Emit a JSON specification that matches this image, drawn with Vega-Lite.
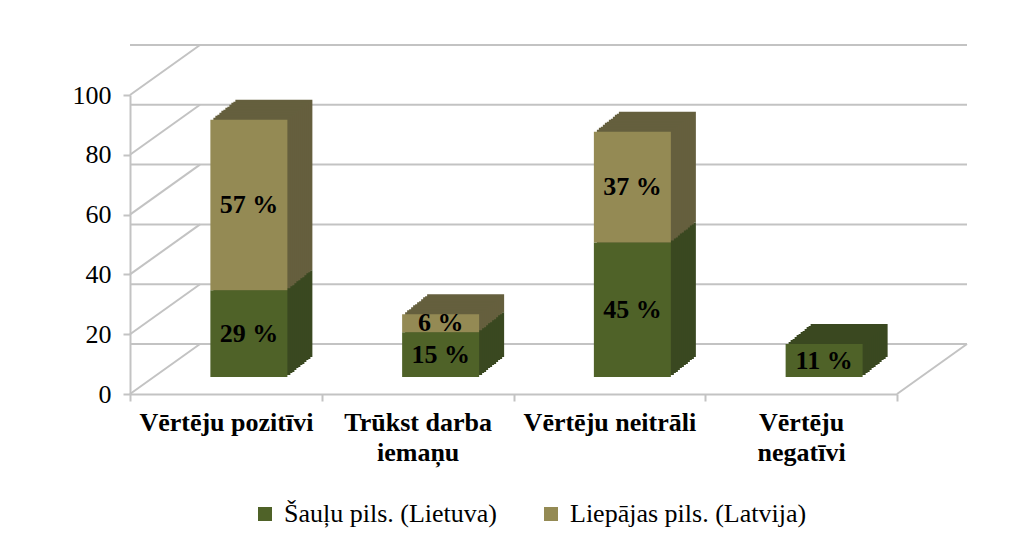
{
  "$schema": "https://vega.github.io/schema/vega-lite/v6.json",
  "width": 767,
  "height": 299,
  "autosize": {"type": "none"},
  "padding": {"left": 130, "top": 95, "right": 130, "bottom": 153},
  "background": "white",
  "config": {"font": "Liberation Serif", "view": {"stroke": null}},
  "datasets": {
    "bars": [
      {"cat": "Vērtēju pozitīvi", "series": "Šauļu pils. (Lietuva)", "value": 29, "ord": 1},
      {"cat": "Vērtēju pozitīvi", "series": "Liepājas pils. (Latvija)", "value": 57, "ord": 2},
      {"cat": "Trūkst darba iemaņu", "series": "Šauļu pils. (Lietuva)", "value": 15, "ord": 1},
      {"cat": "Trūkst darba iemaņu", "series": "Liepājas pils. (Latvija)", "value": 6, "ord": 2},
      {"cat": "Vērtēju neitrāli", "series": "Šauļu pils. (Lietuva)", "value": 45, "ord": 1},
      {"cat": "Vērtēju neitrāli", "series": "Liepājas pils. (Latvija)", "value": 37, "ord": 2},
      {"cat": "Vērtēju negatīvi", "series": "Šauļu pils. (Lietuva)", "value": 11, "ord": 1}
    ],
    "ticks": [{"t": 0}, {"t": 20}, {"t": 40}, {"t": 60}, {"t": 80}, {"t": 100}]
  },
  "layer": [
    {
      "data": {"name": "ticks"},
      "mark": {"type": "rule", "color": "#c3c3c3", "strokeWidth": 2, "xOffset": 70, "x2Offset": 70, "yOffset": -50},
      "encoding": {
        "y": {"field": "t", "type": "quantitative", "scale": {"domain": [0, 100], "nice": false},
          "axis": {"values": [0, 20, 40, 60, 80, 100], "title": null, "grid": false, "labelFontSize": 26, "labelColor": "#000000", "labelFont": "Liberation Serif", "tickSize": 7, "tickWidth": 2, "tickColor": "#c3c3c3", "domainColor": "#c3c3c3", "domainWidth": 2, "labelPadding": 12}}
      }
    },
    {
      "data": {"name": "ticks"},
      "mark": {"type": "rule", "color": "#c3c3c3", "strokeWidth": 2, "x2Offset": 70, "y2Offset": -50},
      "encoding": {
        "x": {"datum": "Vērtēju pozitīvi", "type": "nominal", "bandPosition": 0,
          "scale": {"domain": ["Vērtēju pozitīvi", "Trūkst darba iemaņu", "Vērtēju neitrāli", "Vērtēju negatīvi"], "paddingInner": 0, "paddingOuter": 0},
          "axis": {"title": null, "labelAngle": 0, "tickBand": "extent", "labelFontSize": 26, "labelFontWeight": "bold", "labelColor": "#000000", "labelFont": "Liberation Serif", "labelLineHeight": 30, "labelLimit": 400, "tickSize": 7, "tickWidth": 2, "tickColor": "#c3c3c3", "domainColor": "#c3c3c3", "domainWidth": 2, "labelPadding": 8,
            "labelExpr": "datum.value == 'Trūkst darba iemaņu' ? ['Trūkst darba', 'iemaņu'] : datum.value == 'Vērtēju negatīvi' ? ['Vērtēju', 'negatīvi'] : datum.value"}},
        "x2": {"datum": "Vērtēju pozitīvi", "bandPosition": 0},
        "y": {"field": "t", "type": "quantitative"},
        "y2": {"field": "t"}
      }
    },
    {
      "data": {"values": [{"t": 0}]},
      "mark": {"type": "rule", "color": "#c3c3c3", "strokeWidth": 2, "x2Offset": 70, "y2Offset": -50},
      "encoding": {
        "x": {"datum": "Vērtēju negatīvi", "type": "nominal", "bandPosition": 1},
        "x2": {"datum": "Vērtēju negatīvi", "bandPosition": 1},
        "y": {"field": "t", "type": "quantitative"},
        "y2": {"field": "t"}
      }
    },
    {
      "data": {"name": "bars"},
      "mark": {"type": "bar", "size": 77, "xOffset": 48, "x2Offset": 48, "yOffset": -37, "y2Offset": -37},
      "encoding": {
        "x": {"field": "cat", "type": "nominal"},
        "y": {"field": "value", "type": "quantitative", "stack": "zero"},
        "detail": {"field": "series"},
        "order": {"field": "ord"},
        "fill": {"condition": {"test": "datum.ord == 1", "value": "#3A4820"}, "value": "#655F3E"}
      }
    },
    {
      "data": {"name": "bars"},
      "mark": {"type": "bar", "size": 77, "xOffset": 46, "x2Offset": 46, "yOffset": -35, "y2Offset": -35},
      "encoding": {
        "x": {"field": "cat", "type": "nominal"},
        "y": {"field": "value", "type": "quantitative", "stack": "zero"},
        "detail": {"field": "series"},
        "order": {"field": "ord"},
        "fill": {"condition": {"test": "datum.ord == 1", "value": "#3A4820"}, "value": "#655F3E"}
      }
    },
    {
      "data": {"name": "bars"},
      "mark": {"type": "bar", "size": 77, "xOffset": 44, "x2Offset": 44, "yOffset": -34, "y2Offset": -34},
      "encoding": {
        "x": {"field": "cat", "type": "nominal"},
        "y": {"field": "value", "type": "quantitative", "stack": "zero"},
        "detail": {"field": "series"},
        "order": {"field": "ord"},
        "fill": {"condition": {"test": "datum.ord == 1", "value": "#3A4820"}, "value": "#655F3E"}
      }
    },
    {
      "data": {"name": "bars"},
      "mark": {"type": "bar", "size": 77, "xOffset": 42, "x2Offset": 42, "yOffset": -32, "y2Offset": -32},
      "encoding": {
        "x": {"field": "cat", "type": "nominal"},
        "y": {"field": "value", "type": "quantitative", "stack": "zero"},
        "detail": {"field": "series"},
        "order": {"field": "ord"},
        "fill": {"condition": {"test": "datum.ord == 1", "value": "#3A4820"}, "value": "#655F3E"}
      }
    },
    {
      "data": {"name": "bars"},
      "mark": {"type": "bar", "size": 77, "xOffset": 40, "x2Offset": 40, "yOffset": -30, "y2Offset": -30},
      "encoding": {
        "x": {"field": "cat", "type": "nominal"},
        "y": {"field": "value", "type": "quantitative", "stack": "zero"},
        "detail": {"field": "series"},
        "order": {"field": "ord"},
        "fill": {"condition": {"test": "datum.ord == 1", "value": "#3A4820"}, "value": "#655F3E"}
      }
    },
    {
      "data": {"name": "bars"},
      "mark": {"type": "bar", "size": 77, "xOffset": 38, "x2Offset": 38, "yOffset": -29, "y2Offset": -29},
      "encoding": {
        "x": {"field": "cat", "type": "nominal"},
        "y": {"field": "value", "type": "quantitative", "stack": "zero"},
        "detail": {"field": "series"},
        "order": {"field": "ord"},
        "fill": {"condition": {"test": "datum.ord == 1", "value": "#3A4820"}, "value": "#655F3E"}
      }
    },
    {
      "data": {"name": "bars"},
      "mark": {"type": "bar", "size": 77, "xOffset": 36, "x2Offset": 36, "yOffset": -27, "y2Offset": -27},
      "encoding": {
        "x": {"field": "cat", "type": "nominal"},
        "y": {"field": "value", "type": "quantitative", "stack": "zero"},
        "detail": {"field": "series"},
        "order": {"field": "ord"},
        "fill": {"condition": {"test": "datum.ord == 1", "value": "#3A4820"}, "value": "#655F3E"}
      }
    },
    {
      "data": {"name": "bars"},
      "mark": {"type": "bar", "size": 77, "xOffset": 34, "x2Offset": 34, "yOffset": -26, "y2Offset": -26},
      "encoding": {
        "x": {"field": "cat", "type": "nominal"},
        "y": {"field": "value", "type": "quantitative", "stack": "zero"},
        "detail": {"field": "series"},
        "order": {"field": "ord"},
        "fill": {"condition": {"test": "datum.ord == 1", "value": "#3A4820"}, "value": "#655F3E"}
      }
    },
    {
      "data": {"name": "bars"},
      "mark": {"type": "bar", "size": 77, "xOffset": 32, "x2Offset": 32, "yOffset": -24, "y2Offset": -24},
      "encoding": {
        "x": {"field": "cat", "type": "nominal"},
        "y": {"field": "value", "type": "quantitative", "stack": "zero"},
        "detail": {"field": "series"},
        "order": {"field": "ord"},
        "fill": {"condition": {"test": "datum.ord == 1", "value": "#3A4820"}, "value": "#655F3E"}
      }
    },
    {
      "data": {"name": "bars"},
      "mark": {"type": "bar", "size": 77, "xOffset": 30, "x2Offset": 30, "yOffset": -22, "y2Offset": -22},
      "encoding": {
        "x": {"field": "cat", "type": "nominal"},
        "y": {"field": "value", "type": "quantitative", "stack": "zero"},
        "detail": {"field": "series"},
        "order": {"field": "ord"},
        "fill": {"condition": {"test": "datum.ord == 1", "value": "#3A4820"}, "value": "#655F3E"}
      }
    },
    {
      "data": {"name": "bars"},
      "mark": {"type": "bar", "size": 77, "xOffset": 28, "x2Offset": 28, "yOffset": -21, "y2Offset": -21},
      "encoding": {
        "x": {"field": "cat", "type": "nominal"},
        "y": {"field": "value", "type": "quantitative", "stack": "zero"},
        "detail": {"field": "series"},
        "order": {"field": "ord"},
        "fill": {"condition": {"test": "datum.ord == 1", "value": "#3A4820"}, "value": "#655F3E"}
      }
    },
    {
      "data": {"name": "bars"},
      "mark": {"type": "bar", "size": 77, "xOffset": 26, "x2Offset": 26, "yOffset": -19, "y2Offset": -19},
      "encoding": {
        "x": {"field": "cat", "type": "nominal"},
        "y": {"field": "value", "type": "quantitative", "stack": "zero"},
        "detail": {"field": "series"},
        "order": {"field": "ord"},
        "fill": {"condition": {"test": "datum.ord == 1", "value": "#3A4820"}, "value": "#655F3E"}
      }
    },
    {
      "data": {"name": "bars"},
      "mark": {"type": "bar", "size": 77, "xOffset": 23, "x2Offset": 23, "yOffset": -17, "y2Offset": -17},
      "encoding": {
        "x": {"field": "cat", "type": "nominal"},
        "y": {"field": "value", "type": "quantitative", "stack": "zero"},
        "order": {"field": "ord"},
        "color": {"field": "series", "type": "nominal",
          "scale": {"domain": ["Šauļu pils. (Lietuva)", "Liepājas pils. (Latvija)"], "range": ["#4F6228", "#948A54"]},
          "legend": {"title": null, "orient": "none", "legendX": 122, "legendY": 406, "direction": "horizontal", "symbolType": "square", "symbolSize": 196, "symbolStrokeWidth": 0, "labelFontSize": 26, "labelFont": "Liberation Serif", "labelColor": "#000000", "labelOffset": 6, "labelLimit": 500, "columnPadding": 40, "padding": 0}}
      }
    },
    {
      "data": {"name": "bars"},
      "mark": {"type": "text", "xOffset": 23, "yOffset": -17, "fontSize": 26, "fontWeight": "bold", "font": "Liberation Serif", "color": "#000000", "baseline": "middle", "text": {"expr": "datum.value + ' %'"}},
      "encoding": {
        "x": {"field": "cat", "type": "nominal"},
        "y": {"field": "value", "type": "quantitative", "stack": "zero", "bandPosition": 0.5},
        "detail": {"field": "series"},
        "order": {"field": "ord"}
      }
    }
  ]
}
